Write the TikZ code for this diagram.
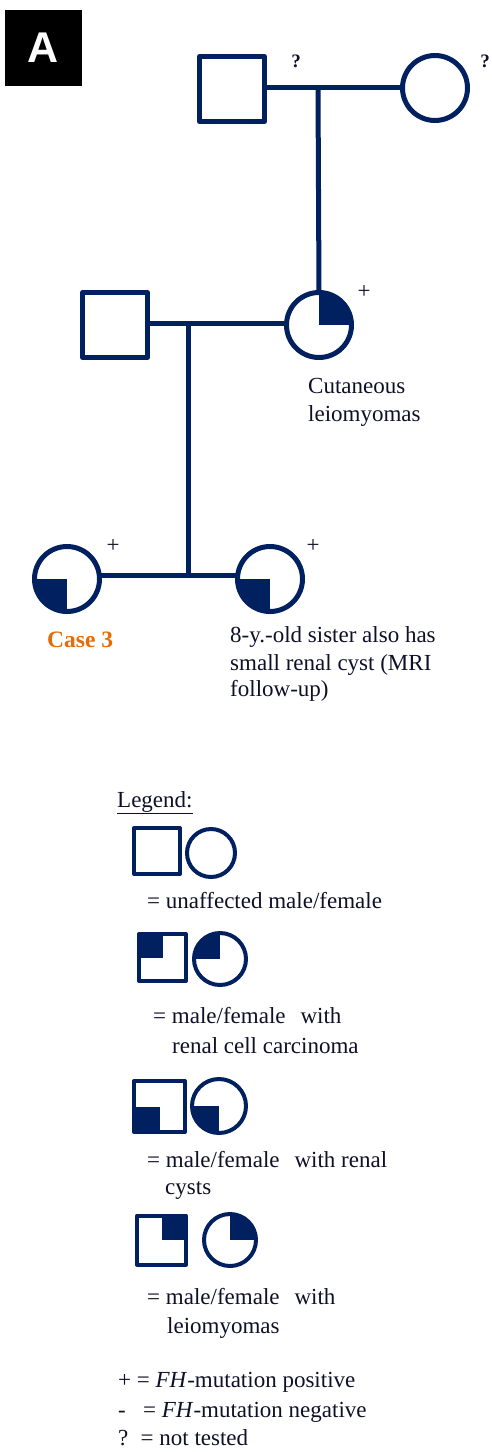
\documentclass[tikz,border=0pt]{standalone}
\usepackage{fontspec}
\setmainfont{Liberation Serif}
\newfontfamily\labelsans{Liberation Sans}
\definecolor{navy}{RGB}{0,32,96}
\definecolor{caseorange}{RGB}{228,108,10}
\definecolor{txtcol}{RGB}{15,15,40}
\tikzset{
  ped/.style={draw=navy, line width=5pt, fill=white, inner sep=0pt, outer sep=0pt, line join=round},
  pmale/.style={ped, rectangle, minimum size=65pt},
  pfemale/.style={ped, circle, minimum size=65pt},
  leg/.style={draw=navy, line width=4pt, fill=white, inner sep=0pt, outer sep=0pt, line join=round},
  qUR/.style={path picture={\fill[navy] (path picture bounding box.center) rectangle (path picture bounding box.north east);}},
  qUL/.style={path picture={\fill[navy] (path picture bounding box.center) rectangle (path picture bounding box.north west);}},
  qLL/.style={path picture={\fill[navy] (path picture bounding box.center) rectangle (path picture bounding box.south west);}},
  conn/.style={draw=navy, line width=5pt},
  txt/.style={font=\fontsize{23}{28}\selectfont, anchor=base west, inner sep=0pt, text=txtcol},
  signq/.style={font=\bfseries\fontsize{19}{19}\selectfont, inner sep=0pt, text=txtcol},
  signp/.style={font=\fontsize{23}{23}\selectfont, inner sep=0pt, text=txtcol},
}
\begin{document}
\begin{tikzpicture}[x=1pt,y=1pt]
\useasboundingbox (0,0) rectangle (491,-1452);
% panel label
\node[fill=black, minimum width=77pt, minimum height=76pt, inner sep=0pt, text=white,
      font=\labelsans\bfseries\fontsize{43}{43}\selectfont] (lblA) at (43.5,-48) {A};
% generation I
\node[pmale] (gf) at (232,-89) {};
\node[pfemale] (gm) at (435,-88) {};
\node[signq] (qgf) at (296,-61) {?};
\node[signq] (qgm) at (485,-61) {?};
\coordinate (m1) at (318,-87);
\draw[conn] (gf.east |- m1) -- (gm.west |- m1);
% generation II
\node[pmale] (fa) at (115,-325) {};
\node[pfemale, qUR] (mo) at (319,-325) {};
\node[signp] (pmo) at (364,-292) {+};
\draw[conn] (m1) -- (mo.north);
\coordinate (m2) at (188,-323);
\draw[conn] (fa.east |- m2) -- (mo.west |- m2);
\node[txt] (mot1) at (308,-393) {Cutaneous};
\node[txt] (mot2) at (308,-421) {leiomyomas};
% generation III
\node[pfemale, qLL] (c3) at (67,-579) {};
\node[pfemale, qLL] (sis) at (270,-579) {};
\node[signp] (pc3) at (113,-546) {+};
\node[signp] (psis) at (313,-546) {+};
\coordinate (s1) at (188,-575);
\draw[conn] (m2) -- (s1);
\draw[conn] (c3.east |- s1) -- (sis.west |- s1);
\node[txt, font=\bfseries\fontsize{23.5}{28}\selectfont, text=caseorange] (c3t) at (47,-647) {Case 3};
\node[txt] (sist1) at (230,-642) {8-y.-old sister also has};
\node[txt] (sist2) at (230,-670) {small renal cyst (MRI};
\node[txt] (sist3) at (230,-696) {follow-up)};
% legend
\node[txt] (legt) at (117,-807) {\underline{Legend:}};
\node[leg, rectangle, minimum size=46pt] (l1m) at (157,-851) {};
\node[leg, circle, minimum size=48pt] (l1f) at (211,-853) {};
\node[txt] (l1t) at (147,-908) {= unaffected male/female};
\node[leg, rectangle, minimum size=47pt, qUL] (l2m) at (162.5,-957.5) {};
\node[leg, circle, minimum size=52pt, qUL] (l2f) at (220,-959) {};
\node[txt] (l2t1) at (153,-1023) {= male/female\hspace{0.4em} with};
\node[txt] (l2t2) at (172,-1053) {renal cell carcinoma};
\node[leg, rectangle, minimum size=51pt, qLL] (l3m) at (159.5,-1106.5) {};
\node[leg, circle, minimum size=54pt, qLL] (l3f) at (219,-1106) {};
\node[txt] (l3t1) at (147,-1167) {= male/female\hspace{0.4em} with renal};
\node[txt] (l3t2) at (165,-1194) {cysts};
\node[leg, rectangle, minimum size=49pt, qUR] (l4m) at (161.5,-1240) {};
\node[leg, circle, minimum size=52pt, qUR] (l4f) at (230,-1240) {};
\node[txt] (l4t1) at (147,-1304) {= male/female\hspace{0.4em} with};
\node[txt] (l4t2) at (167,-1333) {leiomyomas};
\node[txt] (k1) at (118,-1387) {+ = \textit{FH}-mutation positive};
\node[txt] (k2) at (118,-1417) {-\hspace{0.5em} = \textit{FH}-mutation negative};
\node[txt] (k3) at (118,-1445) {?\hspace{0.2em} = not tested};
\end{tikzpicture}
\end{document}
